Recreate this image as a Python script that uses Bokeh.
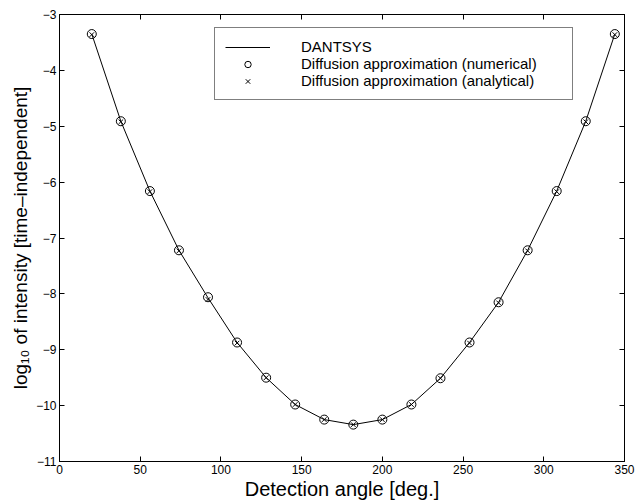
from bokeh.plotting import figure
from bokeh.models import (Legend, LegendItem, LinearAxis, Range1d, FixedTicker,
                          CustomJSTickFormatter)
from bokeh.embed import file_html
from bokeh.resources import INLINE

# ---- data ----
angles = [20, 38, 56, 74, 92, 110, 128, 146, 164, 182, 200, 218, 236, 254, 272, 290, 308, 326, 344]
dantsys = [-3.35, -4.91, -6.16, -7.22, -8.07, -8.87, -9.50, -9.98, -10.25, -10.34,
           -10.25, -9.98, -9.51, -8.87, -8.15, -7.22, -6.16, -4.91, -3.35]
numerical = [-3.35, -4.91, -6.16, -7.22, -8.06, -8.87, -9.50, -9.98, -10.25, -10.34,
             -10.25, -9.98, -9.51, -8.87, -8.15, -7.22, -6.16, -4.91, -3.35]
analytical = [-3.36, -4.92, -6.17, -7.23, -8.10, -8.88, -9.50, -9.98, -10.25, -10.34,
              -10.25, -9.98, -9.51, -8.88, -8.16, -7.23, -6.17, -4.92, -3.36]
x_ticks = [0, 50, 100, 150, 200, 250, 300, 350]
y_ticks = [-11, -10, -9, -8, -7, -6, -5, -4, -3]
y_tick_labels = ["\u221211", "\u221210", "\u22129", "\u22128", "\u22127", "\u22126", "\u22125", "\u22124", "\u22123"]
series_names = ["DANTSYS", "Diffusion approximation (numerical)", "Diffusion approximation (analytical)"]
x_label = "Detection angle [deg.]"
y_label = "log\u2081\u2080 of intensity [time\u2013independent]"

FONT = "Liberation Sans"

p = figure(frame_width=565, frame_height=447,
           x_range=Range1d(0, 350), y_range=Range1d(-11, -3),
           output_backend="svg", toolbar_location=None,
           min_border_left=59, min_border_right=11, min_border_top=14, min_border_bottom=42)
p.xgrid.visible = False
p.ygrid.visible = False
p.outline_line_color = "black"
p.outline_line_width = 1
p.background_fill_color = "white"
p.border_fill_color = "white"

def style_axis(ax, ticks):
    ax.ticker = FixedTicker(ticks=ticks)
    ax.major_tick_in = 5
    ax.major_tick_out = 0
    ax.minor_tick_line_color = None
    ax.axis_line_color = "black"
    ax.major_tick_line_color = "black"
    ax.major_label_text_font = FONT
    ax.major_label_text_font_size = "12px"
    ax.major_label_text_color = "black"
    ax.axis_label_text_font = FONT
    ax.axis_label_text_font_style = "normal"
    ax.axis_label_text_font_size = "20px"
    ax.axis_label_text_color = "black"

xa = p.xaxis[0]
style_axis(xa, x_ticks)
xa.axis_label = x_label
xa.major_label_standoff = 3
xa.axis_label_standoff = 1

ya = p.yaxis[0]
style_axis(ya, y_ticks)
ya.axis_label = y_label
ya.axis_label_text_font_size = "19px"
ya.major_label_overrides = {t: lab for t, lab in zip(y_ticks, y_tick_labels)}
ya.major_label_standoff = 3
ya.axis_label_standoff = 2

empty = CustomJSTickFormatter(code="return ''")
top = LinearAxis(formatter=empty)
style_axis(top, x_ticks)
top.major_label_standoff = 0
right = LinearAxis(formatter=empty)
style_axis(right, y_ticks)
right.major_label_standoff = 0
p.add_layout(top, "above")
p.add_layout(right, "right")

r_line = p.line(angles, dantsys, line_color="black", line_width=1)
r_circ = p.scatter(angles, numerical, marker="circle", size=9, fill_color=None,
                   line_color="black", line_width=1)
r_x = p.scatter(angles, analytical, marker="x", size=6.5, line_color="black", line_width=1)

legend = Legend(items=[LegendItem(label=series_names[0], renderers=[r_line]),
                       LegendItem(label=series_names[1], renderers=[r_circ]),
                       LegendItem(label=series_names[2], renderers=[r_x])],
                location=(155, 361), padding=10, spacing=-2, margin=0,
                label_height=16, glyph_height=16, glyph_width=45,
                label_standoff=31, label_width=261,
                border_line_color="black", border_line_width=1,
                background_fill_color="white", background_fill_alpha=1,
                label_text_font=FONT, label_text_font_size="15px",
                label_text_line_height=1.0,
                label_text_color="black")
p.add_layout(legend)

open("out.html", "w").write(file_html(p, INLINE))
